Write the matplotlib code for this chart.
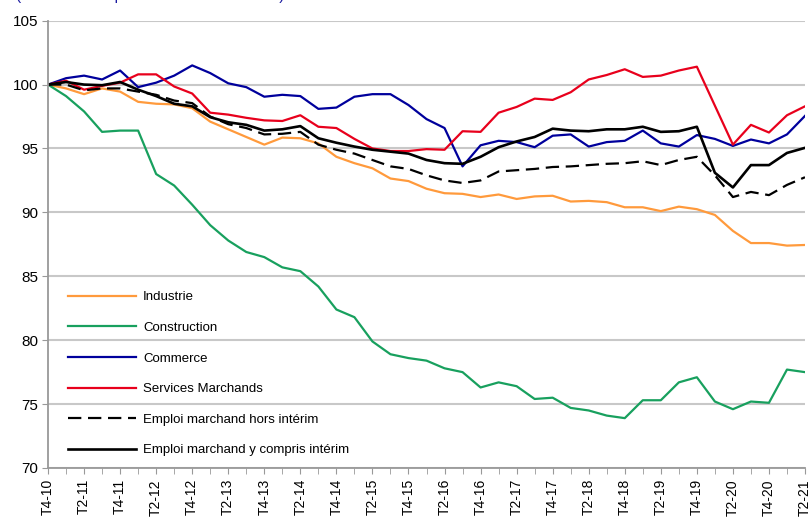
import matplotlib
matplotlib.use("Agg")
import matplotlib.pyplot as plt

plt.rcParams['font.family'] = ['Liberation Sans', 'DejaVu Sans']

# trimestres T4-2010 .. T2-2021
quarters = []
for yr in range(10, 22):
    for q in (1, 2, 3, 4):
        if (yr == 10 and q < 4) or (yr == 21 and q > 2):
            continue
        quarters.append("T%d-%02d" % (q, yr))

industrie = [100, 99.7, 99.25, 99.7, 99.45, 98.65, 98.5, 98.45, 98.15, 97.1,
             96.5, 95.9, 95.3, 95.85, 95.8, 95.4, 94.35, 93.85, 93.45, 92.65,
             92.45, 91.85, 91.5, 91.45, 91.2, 91.4, 91.05, 91.25, 91.3, 90.85,
             90.9, 90.8, 90.4, 90.4, 90.1, 90.45, 90.25, 89.8, 88.55, 87.6,
             87.6, 87.4, 87.45]
construction = [100, 99.1, 97.9, 96.3, 96.4, 96.4, 93.0, 92.1, 90.6, 89.0,
                87.8, 86.9, 86.5, 85.7, 85.4, 84.2, 82.4, 81.8, 79.9, 78.9,
                78.6, 78.4, 77.8, 77.5, 76.3, 76.7, 76.4, 75.4, 75.5, 74.7,
                74.5, 74.1, 73.9, 75.3, 75.3, 76.7, 77.1, 75.2, 74.6, 75.2,
                75.1, 77.7, 77.5]
commerce = [100, 100.5, 100.7, 100.4, 101.1, 99.8, 100.15, 100.7, 101.5, 100.9,
            100.1, 99.8, 99.05, 99.2, 99.1, 98.1, 98.2, 99.05, 99.25, 99.25,
            98.4, 97.3, 96.6, 93.6, 95.25, 95.6, 95.5, 95.1, 96.0, 96.1,
            95.15, 95.5, 95.6, 96.4, 95.4, 95.15, 96.05, 95.75, 95.2, 95.7,
            95.4, 96.1, 97.55]
services = [100, 100.3, 99.6, 99.9, 100.15, 100.8, 100.8, 99.85, 99.3, 97.8,
            97.65, 97.4, 97.2, 97.15, 97.6, 96.7, 96.6, 95.75, 95.0, 94.8,
            94.8, 94.95, 94.9, 96.35, 96.3, 97.8, 98.25, 98.9, 98.8, 99.4,
            100.4, 100.75, 101.2, 100.6, 100.7, 101.1, 101.4, 98.35, 95.3, 96.85,
            96.25, 97.6, 98.3]
hors_interim = [100, 100, 99.55, 99.7, 99.7, 99.45, 99.2, 98.75, 98.55, 97.5,
                96.9, 96.6, 96.1, 96.15, 96.3, 95.3, 94.9, 94.6, 94.1, 93.6,
                93.4, 92.9, 92.5, 92.3, 92.5, 93.2, 93.3, 93.4, 93.55, 93.6,
                93.7, 93.8, 93.85, 94.0, 93.7, 94.1, 94.35, 92.9, 91.2, 91.6,
                91.35, 92.15, 92.75]
y_compris_interim = [100, 100.2, 100, 99.95, 100.2, 99.6, 99.1, 98.5, 98.3, 97.45,
                     97.05, 96.85, 96.4, 96.5, 96.75, 95.8, 95.45, 95.15, 94.9, 94.75,
                     94.6, 94.1, 93.85, 93.8, 94.35, 95.1, 95.55, 95.9, 96.55, 96.4,
                     96.35, 96.5, 96.5, 96.7, 96.3, 96.35, 96.7, 93.1, 91.95, 93.7,
                     93.7, 94.65, 95.05]

x = list(range(len(quarters)))

fig = plt.figure(figsize=(8.11, 5.17), dpi=100)
ax = fig.add_axes([0.0592, 0.0948, 0.9334, 0.8652])

lw = 1.6
ax.plot(x, industrie, color="#FF9A3C", lw=lw, label="Industrie")
ax.plot(x, construction, color="#18A05E", lw=lw, label="Construction")
ax.plot(x, commerce, color="#00009C", lw=lw, label="Commerce")
ax.plot(x, services, color="#E8001C", lw=lw, label="Services Marchands")
ax.plot(x, hors_interim, color="black", lw=lw, linestyle=(0, (6, 3)),
        label="Emploi marchand hors intérim")
ax.plot(x, y_compris_interim, color="black", lw=lw + 0.3,
        label="Emploi marchand y compris intérim")

ax.set_xlim(0, len(x) - 1)
ax.set_ylim(70, 105)
ax.set_yticks(range(70, 106, 5))
ax.set_xticks(x, minor=True)
ax.set_xticks(x[::2])
ax.set_xticklabels(quarters[::2], rotation=90, fontsize=10)
ax.tick_params(axis="y", labelsize=11, length=4, color="#999999", pad=3)
ax.tick_params(axis="x", which="both", length=4, color="#999999", pad=4)

ax.grid(axis="y", color="#c8c8c8", lw=1.5)
ax.set_axisbelow(True)
for s in ("top", "right"):
    ax.spines[s].set_visible(False)
for s in ("left", "bottom"):
    ax.spines[s].set_color("#999999")
    ax.spines[s].set_linewidth(1.3)

ax.legend(loc="upper left", bbox_to_anchor=(0.019, 0.407), frameon=False,
          fontsize=9.5, handlelength=5.2, handletextpad=0.5, labelspacing=1.39,
          borderaxespad=0)

fig.text(0.02, 1.0, "(base 100 au quatrième trimestre 2010)", color="#1a1aa0",
         fontsize=11, va="baseline", ha="left")

fig.savefig("out.png", dpi=100)
